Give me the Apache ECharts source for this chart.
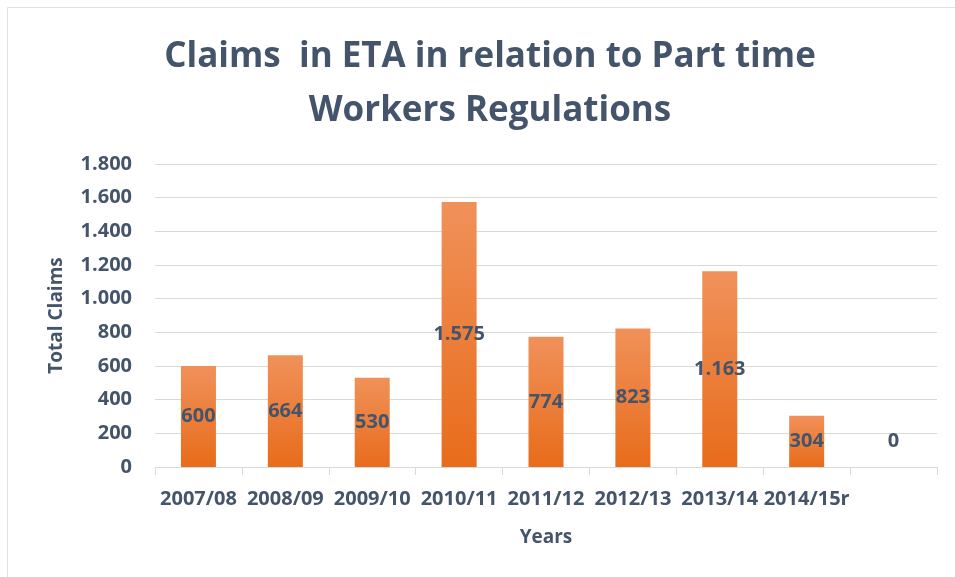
<!DOCTYPE html>
<html>
<head>
<meta charset="utf-8">
<script src="https://cdn.jsdelivr.net/npm/echarts@6/dist/echarts.min.js"></script>
<style>
  html, body { margin: 0; padding: 0; background: #fff; }
  #chart { width: 955px; height: 577px; }
</style>
</head>
<body>
<div id="chart"></div>
<script>
// data
const years = ['2007/08', '2008/09', '2009/10', '2010/11', '2011/12', '2012/13', '2013/14', '2014/15r', ''];
const claims = [600, 664, 530, 1575, 774, 823, 1163, 304, 0];

const textColor = '#44546A';
const fontFamily = '"Open Sans", "Noto Sans", sans-serif';

// 1575 -> "1.575"
function dotThousands(v) {
    return String(v).replace(/\B(?=(\d{3})+(?!\d))/g, '.');
}

let chart = echarts.init(document.getElementById('chart'));

const option = {
    backgroundColor: '#fff',
    textStyle: { fontFamily: fontFamily },
    title: {
        text: 'Claims  in ETA in relation to Part time\nWorkers Regulations',
        left: 485,
        textAlign: 'center',
        top: 25,
        textStyle: {
            color: textColor,
            fontSize: 35,
            fontWeight: 'bold',
            lineHeight: 54,
            fontFamily: fontFamily
        }
    },
    graphic: [{
        type: 'rect',
        shape: { x: 7.5, y: 7.5, width: 1000, height: 1000 },
        style: { fill: 'none', stroke: '#DDE1E6', lineWidth: 1 },
        silent: true
    }],
    grid: { left: 155, right: 18, top: 164, bottom: 110 },
    xAxis: {
        type: 'category',
        data: years,
        name: 'Years',
        nameLocation: 'middle',
        nameGap: 61,
        nameTextStyle: { color: textColor, fontSize: 19, fontWeight: 'bold' },
        axisLine: { lineStyle: { color: '#D9D9D9' } },
        axisTick: { show: true, length: 8, lineStyle: { color: '#D9D9D9' } },
        axisLabel: {
            interval: 0,
            margin: 22,
            color: textColor,
            fontSize: 20,
            fontWeight: 'bold'
        }
    },
    yAxis: {
        type: 'value',
        min: 0,
        max: 1800,
        interval: 200,
        name: 'Total Claims',
        nameLocation: 'middle',
        nameGap: 89,
        nameTextStyle: { color: textColor, fontSize: 19, fontWeight: 'bold' },
        axisLine: { show: false },
        axisTick: { show: false },
        splitLine: { lineStyle: { color: '#D9D9D9' } },
        axisLabel: {
            margin: 23,
            color: textColor,
            fontSize: 20,
            fontWeight: 'bold',
            formatter: dotThousands
        }
    },
    series: [{
        type: 'bar',
        barWidth: 35,
        data: claims.map(function (v) {
            // the zero bar's label sits a bit above the axis
            return v === 0 ? { value: v, label: { offset: [0, -26] } } : v;
        }),
        itemStyle: {
            color: {
                type: 'linear', x: 0, y: 0, x2: 0, y2: 1,
                colorStops: [
                    { offset: 0, color: '#F0915A' },
                    { offset: 1, color: '#E86C1B' }
                ]
            }
        },
        label: {
            show: true,
            position: 'inside',
            color: textColor,
            fontSize: 20,
            fontWeight: 'bold',
            formatter: function (p) { return dotThousands(p.value); }
        }
    }]
};

chart.setOption(option);
</script>
</body>
</html>
